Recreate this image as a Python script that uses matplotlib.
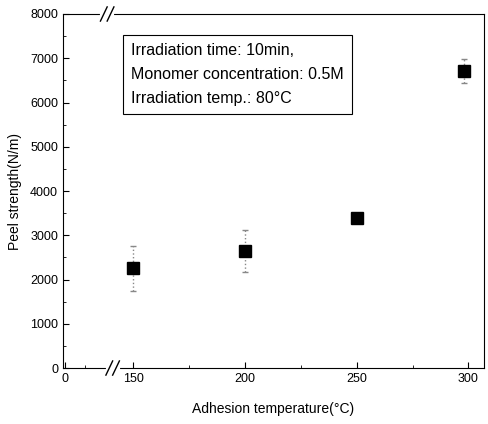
import matplotlib.pyplot as plt
from matplotlib.ticker import MultipleLocator

plt.rcParams['font.family'] = ['Liberation Sans', 'DejaVu Sans']

# data
temps = [150, 200, 250, 298]
peel = [2250, 2650, 3380, 6720]
err = [510, 470, 60, 270]

# broken x axis: the "0" tick sits just right of the left edge
x_zero_pos = 119.5
xticks = [x_zero_pos, 150, 200, 250, 300]
xticklabels = ['0', '150', '200', '250', '300']

fig = plt.figure(figsize=(4.88, 4.24), dpi=100)
ax = fig.add_axes([0.129, 0.132, 0.863, 0.835])

eb = ax.errorbar(temps, peel, yerr=err, fmt='none', ecolor='#888888',
                 elinewidth=1.0, capsize=2.5, zorder=2)
eb[2][0].set_linestyle(':')
ax.plot(temps, peel, 's', color='black', markersize=8, zorder=3)

ax.set_xlim(118.5, 307)
ax.set_ylim(0, 8000)
ax.set_xticks(xticks)
ax.set_xticklabels(xticklabels)
ax.set_xticks([128.5, 175, 225, 275], minor=True)
ax.yaxis.set_major_locator(MultipleLocator(1000))
ax.yaxis.set_minor_locator(MultipleLocator(500))
ax.tick_params(which='both', direction='in', top=False, right=False,
               labelsize=9)
ax.tick_params(which='major', length=4)
ax.tick_params(which='minor', length=2)

ax.set_xlabel('Adhesion temperature(°C)', fontsize=10, labelpad=12)
ax.set_ylabel('Peel strength(N/m)', fontsize=10, labelpad=6)

# axis break marks
for yf, xc in ((0.0, 0.118), (1.0, 0.105)):
    ax.plot([xc - 0.012, xc + 0.012], [yf, yf], color='white', lw=3,
            transform=ax.transAxes, clip_on=False, zorder=4)
    for dx in (-0.008, 0.008):
        ax.plot([xc + dx - 0.008, xc + dx + 0.008], [yf - 0.02, yf + 0.02],
                color='black', lw=1, transform=ax.transAxes, clip_on=False,
                zorder=5)

ax.text(0.162, 0.918,
        'Irradiation time: 10min,\nMonomer concentration: 0.5M\nIrradiation temp.: 80°C',
        transform=ax.transAxes, fontsize=11.5, va='top', ha='left',
        linespacing=1.75,
        bbox=dict(boxstyle='square,pad=0.5', facecolor='white',
                  edgecolor='black', linewidth=0.8))

fig.savefig('out.png', dpi=100)
